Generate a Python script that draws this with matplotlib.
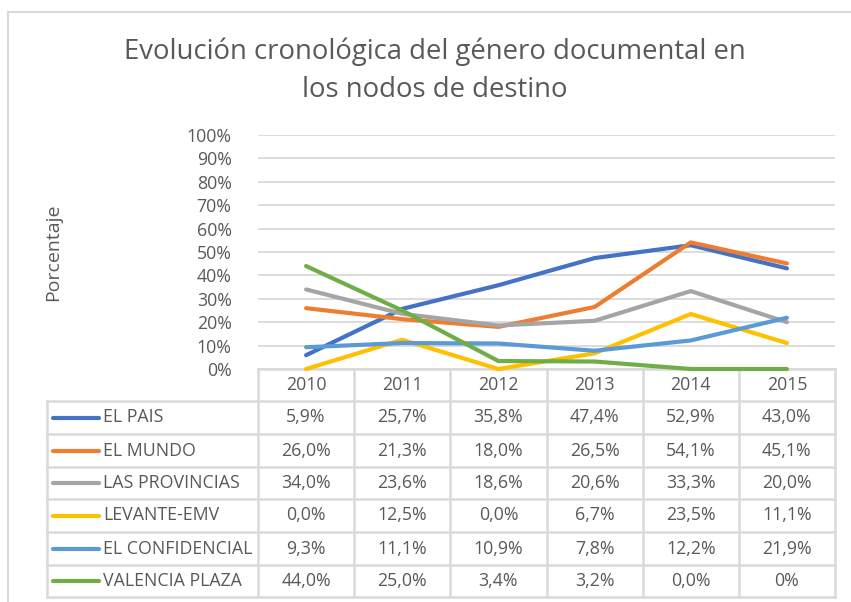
import matplotlib.pyplot as plt
from matplotlib.ticker import PercentFormatter

plt.rcParams['font.family'] = ['Open Sans', 'DejaVu Sans']

years = ['2010', '2011', '2012', '2013', '2014', '2015']
series = ['EL PAIS', 'EL MUNDO', 'LAS PROVINCIAS', 'LEVANTE-EMV',
          'EL CONFIDENCIAL', 'VALENCIA PLAZA']
el_pais = [5.9, 25.7, 35.8, 47.4, 52.9, 43.0]
el_mundo = [26.0, 21.3, 18.0, 26.5, 54.1, 45.1]
las_provincias = [34.0, 23.6, 18.6, 20.6, 33.3, 20.0]
levante = [0.0, 12.5, 0.0, 6.7, 23.5, 11.1]
el_confidencial = [9.3, 11.1, 10.9, 7.8, 12.2, 21.9]
valencia_plaza = [44.0, 25.0, 3.4, 3.2, 0.0, 0.0]
values = [el_pais, el_mundo, las_provincias, levante, el_confidencial, valencia_plaza]
# last cell of the table is written as "0%" in the original
labels = [[f'{v:.1f}%'.replace('.', ',') for v in row] for row in values]
labels[5][5] = '0%'
colors = ['#4472C4', '#ED7D31', '#A5A5A5', '#FFC000', '#5B9BD5', '#70AD47']

W, H = 851, 602
fig = plt.figure(figsize=(W / 100, H / 100), dpi=100)
txt = '#595959'
grid = '#D9D9D9'
fs = 12.8

# pixel overlay for the frame, title and data table
ov = fig.add_axes([0, 0, 1, 1])
ov.set_xlim(0, W)
ov.set_ylim(H, 0)
ov.axis('off')

ov.plot([8, W], [12, 12], color=grid, lw=1.5)
ov.plot([8, 8], [12, H], color=grid, lw=1.5)

ov.text(435, 52, 'Evolución cronológica del género documental en',
        ha='center', va='center', fontsize=19.8, color=txt)
ov.text(435, 90, 'los nodos de destino',
        ha='center', va='center', fontsize=19.8, color=txt)
ov.text(53, 252, 'Porcentaje', rotation=90, ha='center', va='center',
        fontsize=14, color=txt)

# plot area
x0, x1, ytop, ybot = 258, 835, 135, 369
ax = fig.add_axes([x0 / W, 1 - ybot / H, (x1 - x0) / W, (ybot - ytop) / H])
ax.set_xlim(-0.5, len(years) - 0.5)
ax.set_ylim(0, 100)
ax.set_yticks(range(0, 101, 10))
ax.yaxis.set_major_formatter(PercentFormatter(decimals=0))
ax.tick_params(axis='y', length=0, labelsize=fs, labelcolor=txt, pad=19)
ax.set_xticks([])
for s in ax.spines.values():
    s.set_visible(False)
ax.grid(axis='y', color=grid, lw=1.3)
ax.set_axisbelow(True)
ax.patch.set_alpha(0)
for vals, c in zip(values, colors):
    ax.plot(range(len(years)), vals, color=c, lw=3, solid_capstyle='round',
            clip_on=False)

# data table
colw = (x1 - x0) / len(years)
row_tops = [369, 401, 434, 467, 499, 532, 565, 597]
tl = dict(color=grid, lw=1.8)
ov.plot([x0, x1], [row_tops[0], row_tops[0]], **tl)
for r in row_tops[1:]:
    ov.plot([47, x1], [r, r], **tl)
ov.plot([47, 47], [row_tops[1], row_tops[-1]], **tl)
for i in range(len(years) + 1):
    ov.plot([x0 + i * colw] * 2, [row_tops[0], row_tops[-1]], **tl)

for i, y in enumerate(years):
    ov.text(x0 + (i + 0.5) * colw, (row_tops[0] + row_tops[1]) / 2, y,
            ha='center', va='center', fontsize=fs, color=txt)
for j, name in enumerate(series):
    yc = (row_tops[j + 1] + row_tops[j + 2]) / 2
    ov.plot([53, 99], [yc, yc], color=colors[j], lw=3, solid_capstyle='round')
    ov.text(103, yc, name, ha='left', va='center', fontsize=fs, color=txt)
    for i in range(len(years)):
        ov.text(x0 + (i + 0.5) * colw, yc, labels[j][i],
                ha='center', va='center', fontsize=fs, color=txt)

fig.savefig('out.png', dpi=100)
